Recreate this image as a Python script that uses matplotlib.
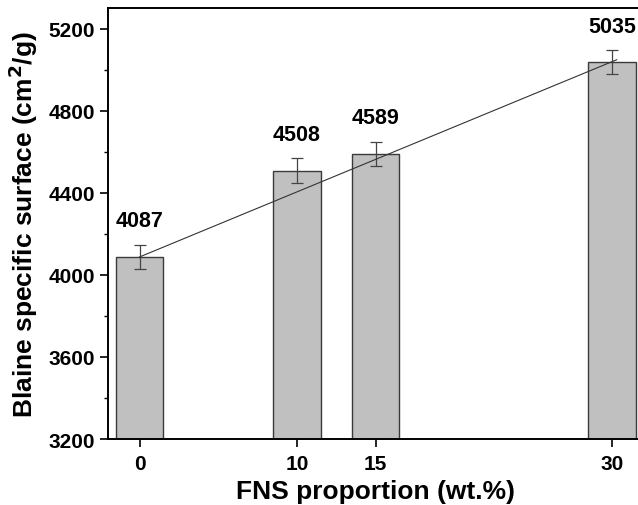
import matplotlib
matplotlib.use('Agg')
import matplotlib.pyplot as plt
from matplotlib.ticker import MultipleLocator

'''Blaine specific surface vs FNS proportion'''

fns = [0, 10, 15, 30]
blaine = [4087, 4508, 4589, 5035]
err = [60, 60, 60, 58]
labels = ['4087', '4508', '4589', '5035']
# trend line end points
trend_x = [0, 30.3]
trend_y = [4087, 5048]

plt.rcParams['font.family'] = ['Liberation Sans', 'DejaVu Sans']
plt.rcParams['font.weight'] = 'bold'

fig = plt.figure(figsize=(6.38, 5.06), dpi=100)
ax = fig.add_axes([0.1693, 0.1304, 0.8393, 0.8518])

ax.bar(fns, blaine, width=3, color='#c0c0c0', edgecolor='#3a3a3a', linewidth=1.0, zorder=2)
ax.errorbar(fns, blaine, yerr=err, fmt='none', ecolor='#444444', elinewidth=0.9,
            capsize=4.5, capthick=0.9, zorder=3)
ax.plot(trend_x, trend_y, color='#333333', linewidth=0.8, zorder=4)

for x, y, t in zip(fns, blaine, labels):
    ax.annotate(t, (x, y), xytext=(0, 26), textcoords='offset points',
                ha='center', va='center', fontsize=15.5, fontweight='bold')

ax.set_xlim(-2, 32)
ax.set_ylim(3200, 5300)
ax.set_xticks(fns)
ax.yaxis.set_major_locator(MultipleLocator(400))
ax.yaxis.set_minor_locator(MultipleLocator(200))

for s in ax.spines.values():
    s.set_linewidth(1.4)
ax.tick_params(axis='both', which='major', direction='out', length=5.8, width=1.2,
               labelsize=15)
ax.tick_params(axis='x', which='major', pad=5)
ax.tick_params(axis='y', which='minor', direction='out', length=3, width=1.0)
for lab in ax.get_xticklabels() + ax.get_yticklabels():
    lab.set_fontweight('bold')

ax.set_xlabel('FNS proportion (wt.%)', fontsize=19, fontweight='bold', labelpad=4)
ax.set_ylabel('Blaine specific surface (cm$^\\mathbf{2}$/g)', fontsize=19,
              fontweight='bold', labelpad=6)

fig.savefig('out.png', dpi=100)
